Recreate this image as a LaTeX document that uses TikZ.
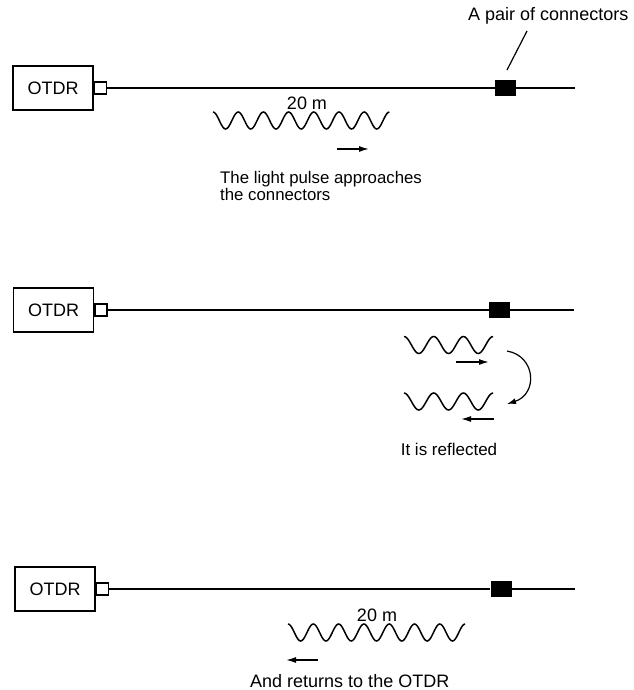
\documentclass[tikz,border=0pt]{standalone}
\usepackage{fontspec}
\setmainfont{Liberation Sans}
\usetikzlibrary{arrows.meta}

\begin{document}
\begin{tikzpicture}[
    x=1pt, y=-1pt,
    every node/.style={font=\fontsize{18}{16}\selectfont},
    otdr/.style={draw, line width=1.5pt, minimum width=80pt, minimum height=44pt, inner sep=0pt},
    port/.style={draw, line width=1.3pt, minimum size=12pt, inner sep=0pt},
    joint/.style={fill=black, minimum width=21pt, minimum height=16pt, inner sep=0pt},
    fiber/.style={line width=1.5pt},
    pulse/.style={line width=1.5pt, smooth},
    dir/.style={-{Latex[length=10pt,width=6pt]}, line width=1.4pt},
    lbl/.style={inner sep=0pt}
]
\useasboundingbox (0,0) rectangle (633,690);

% the pulse approaches
\node[otdr] (otdrA) at (53,88) {OTDR};
\node[port, anchor=west] (portA) at (otdrA.east) {};
\node[joint] (jointA) at (505.5,88) {};
\coordinate (endA) at (575,88);
\draw[fiber] (portA.east) -- (jointA.west);
\draw[fiber] (jointA.east) -- (endA);
\node[lbl, anchor=base west] (pair) at (468,21) {A pair of connectors};
\coordinate (leadA) at (527,31);
\coordinate (leadB) at (507,70);
\draw[line width=1.2pt] (leadA) -- (leadB);
\draw[pulse] plot[domain=0:7, samples=141] ({213+25.2*\x},{120.5-8.5*cos(360*\x)});
\node[lbl, anchor=base] (lenA) at (307,110) {20 m};
\coordinate (goA) at (337,149);
\coordinate (goB) at (369,149);
\draw[dir] (goA) -- (goB);
\node[lbl, anchor=north west, align=left, font=\fontsize{16.8}{15.5}\selectfont] (stepA) at (220,171) {The light pulse approaches\\the connectors};

% it is reflected
\node[otdr] (otdrB) at (53.5,310) {OTDR};
\node[port, anchor=west] (portB) at (otdrB.east) {};
\node[joint] (jointB) at (499.5,310) {};
\coordinate (endB) at (574,310);
\draw[fiber] (portB.east) -- (jointB.west);
\draw[fiber] (jointB.east) -- (endB);
\draw[pulse] plot[domain=0:3, samples=61] ({404+29.7*\x},{345-8.5*cos(360*\x)});
\draw[pulse] plot[domain=0:3, samples=61] ({404+29.7*\x},{401.5-8.5*cos(360*\x)});
\coordinate (inA) at (456,362);
\coordinate (inB) at (489,362);
\draw[dir] (inA) -- (inB);
\coordinate (backA) at (494,419);
\coordinate (backB) at (461,419);
\draw[dir] (backA) -- (backB);
\coordinate (turnA) at (507,351);
\coordinate (turnB) at (507,404);
\draw[-{Latex[length=9pt,width=6pt]}, line width=1.2pt] (turnA) .. controls (536,356) and (538,394) .. (turnB);
\node[lbl, anchor=base, font=\fontsize{17}{16}\selectfont] (stepB) at (449,455) {It is reflected};

% and returns
\node[otdr] (otdrC) at (55,589) {OTDR};
\node[port, anchor=west] (portC) at (otdrC.east) {};
\node[joint] (jointC) at (501,589) {};
\coordinate (endC) at (575,589);
\draw[fiber] (portC.east) -- (jointC.west);
\draw[fiber] (jointC.east) -- (endC);
\draw[pulse] plot[domain=0:7, samples=141] ({288+25.3*\x},{632.5-8.5*cos(360*\x)});
\node[lbl, anchor=base] (lenC) at (377,621) {20 m};
\coordinate (retA) at (318,660);
\coordinate (retB) at (286,660);
\draw[dir] (retA) -- (retB);
\node[lbl, anchor=base west] (stepC) at (250,687) {And returns to the OTDR};
\end{tikzpicture}
\end{document}
